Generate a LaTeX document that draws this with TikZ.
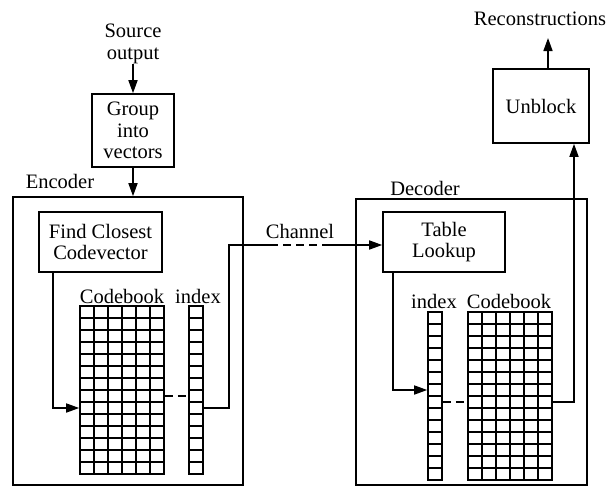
\documentclass[tikz,border=0pt]{standalone}
\usepackage{fontspec}
\setmainfont{Liberation Serif}
\usetikzlibrary{arrows.meta,calc}
\begin{document}
\begin{tikzpicture}[x=1pt,y=-1pt,
 lbl/.style={font=\fontsize{20.5}{22}\selectfont, align=center, inner sep=0pt},
 box/.style={draw, line width=1.6pt, align=center, font=\fontsize{20.5}{21.5}\selectfont, inner sep=0pt},
 wire/.style={line width=1.6pt},
 arr/.style={wire,-{Triangle[length=13pt,width=9pt]}},
 dsh/.style={wire, dash pattern=on 8pt off 5pt},
 gbox/.style={draw, line width=1.6pt, inner sep=0pt},
 gline/.style={line width=1.6pt}]
\useasboundingbox (0,0) rectangle (609,487);

% containers
\node[box, minimum width=230pt, minimum height=288pt] (enc) at (128,341) {};
\node[box, minimum width=231pt, minimum height=286pt] (dec) at (471.5,342) {};
\node[lbl] (encl) at (60,181) {Encoder};
\node[lbl] (decl) at (425,188) {Decoder};

% top blocks
\node[lbl] (src) at (133,44) {Source\\output};
\node[box, minimum width=82pt, minimum height=73pt] (grp) at (133,130.5) {Group\\into\\vectors};
\node[box, minimum width=123pt, minimum height=60pt] (find) at (100.5,242) {Find Closest\\Codevector};
\node[box, minimum width=122pt, minimum height=60pt] (tab) at (444,242) {Table\\Lookup};
\node[box, minimum width=96pt, minimum height=74pt] (unb) at (541,106) {Unblock};
\node[lbl] (rec) at (540,19) {Reconstructions};
\node[lbl] (chl) at (300,231) {Channel};

% grids
\node[gbox, minimum width=84pt, minimum height=168pt] (cbE) at (122,390) {};
\node[gbox, minimum width=14pt, minimum height=168pt] (ixE) at (196,390) {};
\node[gbox, minimum width=14pt, minimum height=168pt] (ixD) at (435,396) {};
\node[gbox, minimum width=84pt, minimum height=168pt] (cbD) at (510,396) {};
\node[lbl] (cbEl) at (122,296) {Codebook};
\node[lbl] (ixEl) at (198,296) {index};
\node[lbl] (ixDl) at (434,301) {index};
\node[lbl] (cbDl) at (509,301) {Codebook};

\foreach \i in {1,...,13} {
  \draw[gline] (80,{306+\i*12}) -- (164,{306+\i*12});
  \draw[gline] (189,{306+\i*12}) -- (203,{306+\i*12});
  \draw[gline] (428,{312+\i*12}) -- (442,{312+\i*12});
  \draw[gline] (468,{312+\i*12}) -- (552,{312+\i*12});
}
\foreach \j in {1,...,5} {
  \draw[gline] ({80+\j*14},306) -- ({80+\j*14},474);
  \draw[gline] ({468+\j*14},312) -- ({468+\j*14},480);
}

% helper coordinates
\coordinate (yA) at (0,408);
\coordinate (yB) at (0,396);
\coordinate (yC) at (0,390);
\coordinate (yD) at (0,402);
\coordinate (fx) at (53,0);
\coordinate (tx) at (393,0);
\coordinate (c1) at (229,408);
\coordinate (c2) at (229,245);
\coordinate (c3) at (270,245);
\coordinate (c4) at (325,245);
\coordinate (u1) at (574,402);

% connectors
\draw[arr] (src) -- (grp);
\draw[arr] (grp) -- (grp.south |- enc.north);
\draw[arr] (find.south -| fx) |- (cbE.west |- yA);
\draw[dsh] (cbE.east |- yB) -- (ixE.west |- yB);
\draw[wire] (ixE.east |- yA) -- (c1) -- (c2) -- (c3);
\draw[dsh] (c3) -- (c4);
\draw[arr] (c4) -- (tab.west |- c4);
\draw[arr] (tab.south -| tx) |- (ixD.west |- yC);
\draw[dsh] (ixD.east |- yD) -- (cbD.west |- yD);
\draw[arr] (cbD.east |- yD) -- (u1) -- (unb.south -| u1);
\draw[arr] (unb.north -| 548,0) -- (548,38);
\end{tikzpicture}
\end{document}
